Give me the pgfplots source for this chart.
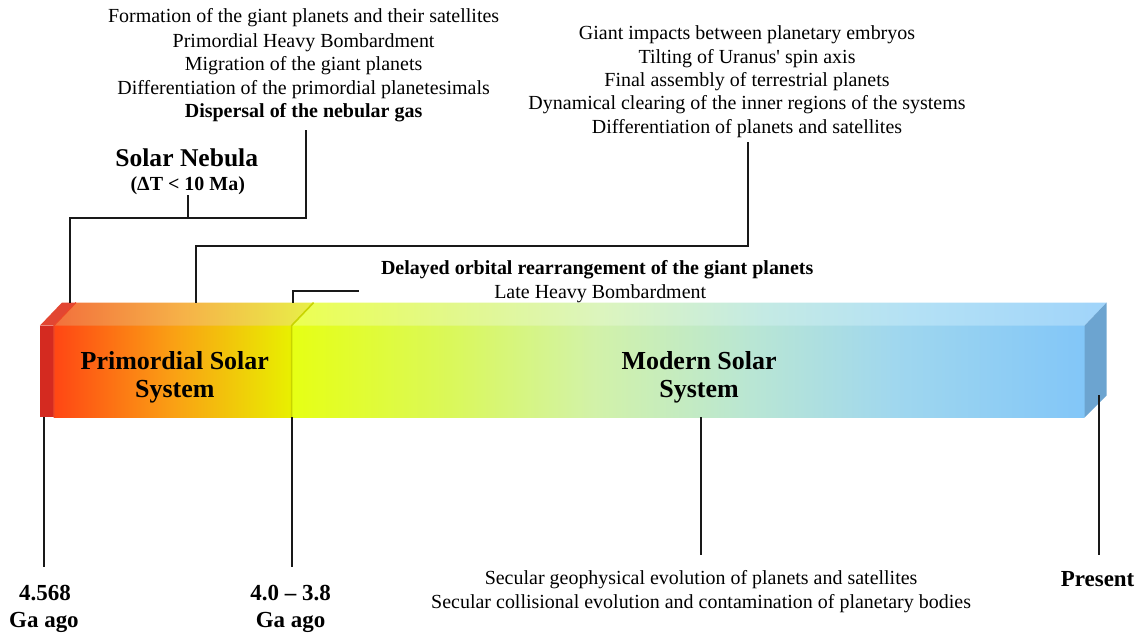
\documentclass[border=0pt]{standalone}
\usepackage{fontspec}
\setmainfont{Liberation Serif}
\usepackage{pgfplots}
\pgfplotsset{compat=1.18}

\definecolor{pf1}{RGB}{255,70,20}
\definecolor{pf2}{RGB}{250,160,20}
\definecolor{pf3}{RGB}{232,240,0}
\definecolor{pt1}{RGB}{242,112,60}
\definecolor{pt2}{RGB}{246,178,72}
\definecolor{pt3}{RGB}{232,240,72}
\definecolor{mf1}{RGB}{230,255,20}
\definecolor{mf2}{RGB}{218,248,90}
\definecolor{mf3}{RGB}{210,242,168}
\definecolor{mf4}{RGB}{185,230,212}
\definecolor{mf5}{RGB}{160,215,238}
\definecolor{mf6}{RGB}{130,198,248}
\definecolor{mt1}{RGB}{236,255,80}
\definecolor{mt2}{RGB}{226,248,140}
\definecolor{mt3}{RGB}{220,245,190}
\definecolor{mt4}{RGB}{196,234,228}
\definecolor{mt5}{RGB}{180,225,245}
\definecolor{mt6}{RGB}{160,212,250}
\definecolor{redfront}{RGB}{212,42,32}
\definecolor{redtop}{RGB}{226,70,50}
\definecolor{sideblue}{RGB}{108,164,208}
\definecolor{divline}{RGB}{200,212,0}
\definecolor{ink}{RGB}{25,25,25}

\pgfdeclarehorizontalshading{primfront}{100bp}{color(0bp)=(pf1); color(25bp)=(pf1); color(50bp)=(pf2); color(75bp)=(pf3); color(100bp)=(pf3)}
\pgfdeclarehorizontalshading{primtop}{100bp}{color(0bp)=(pt1); color(25bp)=(pt1); color(50bp)=(pt2); color(75bp)=(pt3); color(100bp)=(pt3)}
\pgfdeclarehorizontalshading{modfront}{100bp}{color(0bp)=(mf1); color(25bp)=(mf1); color(35bp)=(mf2); color(44bp)=(mf3); color(54bp)=(mf4); color(63bp)=(mf5); color(75bp)=(mf6); color(100bp)=(mf6)}
\pgfdeclarehorizontalshading{modtop}{100bp}{color(0bp)=(mt1); color(25bp)=(mt1); color(35bp)=(mt2); color(44bp)=(mt3); color(54bp)=(mt4); color(63bp)=(mt5); color(75bp)=(mt6); color(100bp)=(mt6)}

\begin{document}
\begin{tikzpicture}
\begin{axis}[
  width=570.5pt, height=316pt, scale only axis,
  xmin=0, xmax=1141, ymin=0, ymax=632,
  hide axis, clip=false,
  every node/.append style={anchor=base, inner sep=0pt, outer sep=0pt, text=ink},
]
% invisible frame for the bounding box
\addplot[draw=none] coordinates {(0,0) (1141,632)};

% ---- bar: red strip
\addplot[draw=none, fill=redfront] coordinates {(40,214) (54,214) (54,306) (40,306)} -- cycle;
\addplot[draw=none, fill=redtop] coordinates {(40,306) (54,306) (76,329) (62,329)} -- cycle;
% ---- primordial
\addplot[draw=none, shade, shading=primfront] coordinates {(54,214) (292,214) (292,306) (54,306)} -- cycle;
\addplot[draw=none, shade, shading=primtop] coordinates {(54,306) (292,306) (314,329) (76,329)} -- cycle;
% ---- modern
\addplot[draw=none, shade, shading=modfront] coordinates {(292,214) (1086,214) (1086,306) (292,306)} -- cycle;
\addplot[draw=none, shade, shading=modtop] coordinates {(292,306) (1086,306) (1108,329) (314,329)} -- cycle;
% ---- right side
\addplot[draw=none, fill=sideblue] coordinates {(1086,214) (1108,236) (1108,329) (1086,306)} -- cycle;
% ---- dividers
\addplot[divline, line width=0.8pt] coordinates {(292,214) (292,306) (314,329)};
\addplot[redtop!70!pf1, line width=0.6pt] coordinates {(54,214) (54,306) (76,329)};

% ---- connector lines
\addplot[ink, line width=1pt] coordinates {(70,329) (70,414) (306,414) (306,502)};
\addplot[ink, line width=1pt] coordinates {(188,414) (188,437)};
\addplot[ink, line width=1pt] coordinates {(196,329) (196,386) (749,386) (749,490)};
\addplot[ink, line width=1pt] coordinates {(293,329) (293,341) (359,341)};
\addplot[ink, line width=1pt] coordinates {(44,214) (44,64)};
\addplot[ink, line width=1pt] coordinates {(292,214) (292,64)};
\addplot[ink, line width=1pt] coordinates {(702,214) (702,76)};
\addplot[ink, line width=1pt] coordinates {(1100,236) (1100,76)};

% ---- texts
\begin{scope}[font=\fontsize{10}{12}\selectfont]
\node at (304,614) {Formation of the giant planets and their satellites};
\node at (304,589) {Primordial Heavy Bombardment};
\node at (304,566) {Migration of the giant planets};
\node at (304,542) {Differentiation of the primordial planetesimals};
\node at (304,519) {\bfseries Dispersal of the nebular gas};

\node at (748,597) {Giant impacts between planetary embryos};
\node at (748,573) {Tilting of Uranus\textquotesingle{} spin axis};
\node at (748,550) {Final assembly of terrestrial planets};
\node at (748,527) {Dynamical clearing of the inner regions of the systems};
\node at (748,503) {Differentiation of planets and satellites};

\node at (598,362) {\bfseries Delayed orbital rearrangement of the giant planets};
\node at (601,338) {Late Heavy Bombardment};

\node at (702,52) {Secular geophysical evolution of planets and satellites};
\node at (702,28) {Secular collisional evolution and contamination of planetary bodies};
\end{scope}

\node[font=\fontsize{12.8}{15}\selectfont\bfseries] at (187,474) {Solar Nebula};
\node[font=\fontsize{10}{12}\selectfont\bfseries] at (188,446) {(ΔT < 10 Ma)};

\node[font=\fontsize{13}{15}\selectfont\bfseries] at (175,271) {Primordial Solar};
\node[font=\fontsize{13}{15}\selectfont\bfseries] at (175,240) {System};
\node[font=\fontsize{13}{15}\selectfont\bfseries] at (700,271) {Modern Solar};
\node[font=\fontsize{13}{15}\selectfont\bfseries] at (700,240) {System};

\node[font=\fontsize{11.5}{14}\selectfont\bfseries] at (45,38) {4.568};
\node[font=\fontsize{11.5}{14}\selectfont\bfseries] at (44,9) {Ga ago};
\node[font=\fontsize{11.5}{14}\selectfont\bfseries] at (291,38) {4.0 – 3.8};
\node[font=\fontsize{11.5}{14}\selectfont\bfseries] at (291,9) {Ga ago};
\node[font=\fontsize{11.5}{14}\selectfont\bfseries] at (1099,52) {Present};
\end{axis}
\end{tikzpicture}
\end{document}
